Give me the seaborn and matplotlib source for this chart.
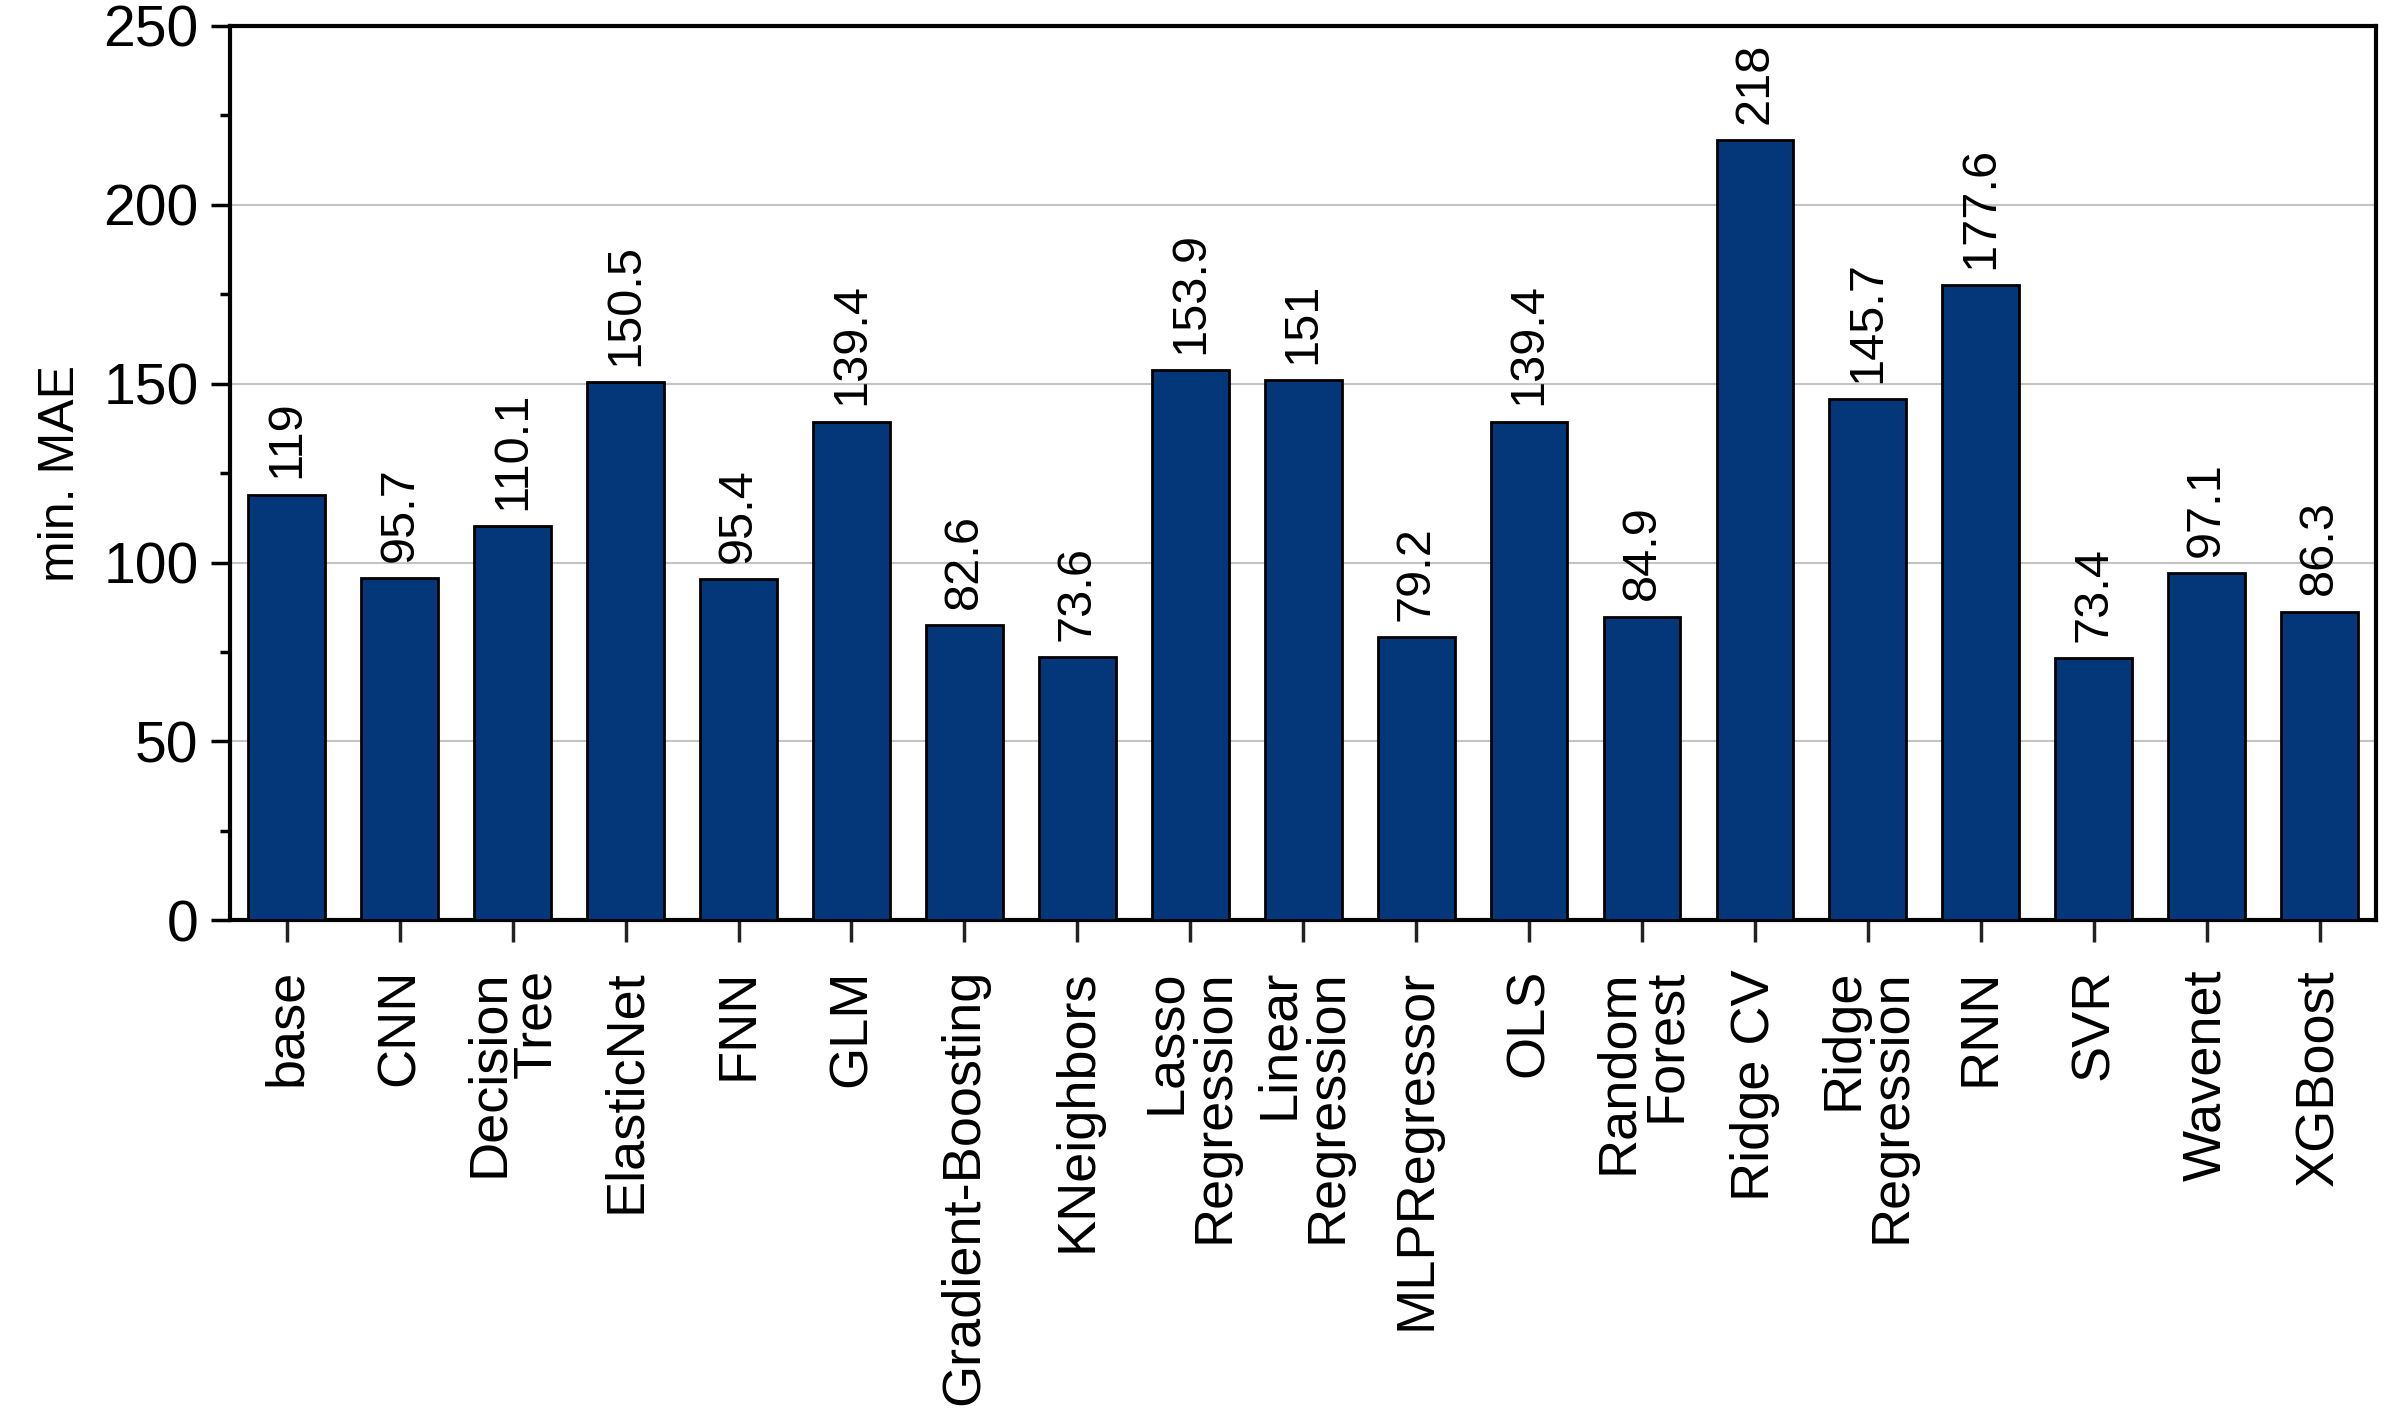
import numpy as np
import pandas as pd
import seaborn as sns
import matplotlib.pyplot as plt
from matplotlib.ticker import MultipleLocator

# values
models = ["base", "CNN", "Decision\nTree", "ElasticNet", "FNN", "GLM",
          "Gradient-Boosting", "KNeighbors", "Lasso\nRegression",
          "Linear\nRegression", "MLPRegressor", "OLS", "Random\nForest",
          "Ridge CV", "Ridge\nRegression", "RNN", "SVR", "Wavenet", "XGBoost"]
min_mae = [119, 95.7, 110.1, 150.5, 95.4, 139.4, 82.6, 73.6, 153.9,
           151, 79.2, 139.4, 84.9, 218, 145.7, 177.6, 73.4, 97.1, 86.3]
y_ticks = [0, 50, 100, 150, 200, 250]

df = pd.DataFrame({"model": models, "mae": min_mae})

sns.set_style("ticks")
plt.rcParams["font.family"] = ["Liberation Sans", "DejaVu Sans"]
plt.rcParams["text.color"] = "black"
plt.rcParams["axes.labelcolor"] = "black"
plt.rcParams["xtick.labelcolor"] = "black"
plt.rcParams["ytick.labelcolor"] = "black"

fig, ax = plt.subplots(figsize=(24, 14.27), dpi=100)
fig.subplots_adjust(left=0.096, right=0.99, bottom=0.355, top=0.982)

sns.barplot(data=df, x="model", y="mae", color="#03377a", saturation=1,
            width=0.68, edgecolor="black", linewidth=2, ax=ax, zorder=3)

# value labels above bars
for i, v in enumerate(min_mae):
    ax.text(i, v + 4.5, f"{v:g}", rotation=90, ha="center", va="bottom",
            fontsize=35, color="black", zorder=4)

ax.set_xlim(-0.5, len(models) - 0.5)
ax.set_ylim(0, 250)
ax.set_yticks(y_ticks)
ax.yaxis.set_minor_locator(MultipleLocator(25))
ax.yaxis.grid(True, color="#c4c4c4", linewidth=1.5, zorder=0)
ax.set_axisbelow(True)

ax.set_xlabel("")
ax.set_ylabel("min. MAE", fontsize=36, color="black")
ax.yaxis.set_label_coords(-0.068, 0.5)

for side in ["top", "right", "left", "bottom"]:
    ax.spines[side].set_visible(True)
    ax.spines[side].set_linewidth(3)
    ax.spines[side].set_color("black")

ax.tick_params(axis="y", which="major", length=14, width=2.5, labelsize=41,
               pad=9, color="black", labelcolor="black")
ax.tick_params(axis="y", which="minor", length=7, width=2.5, color="black")
ax.tick_params(axis="x", which="major", length=16, width=2.5, labelsize=39,
               pad=19, color="#222222", labelcolor="black")
for lbl in ax.get_xticklabels():
    lbl.set_rotation(90)
    lbl.set_ha("center")
    lbl.set_va("top")
    lbl.set_multialignment("right")
    lbl.set_linespacing(0.95)

fig.savefig("out.png", dpi=100)
